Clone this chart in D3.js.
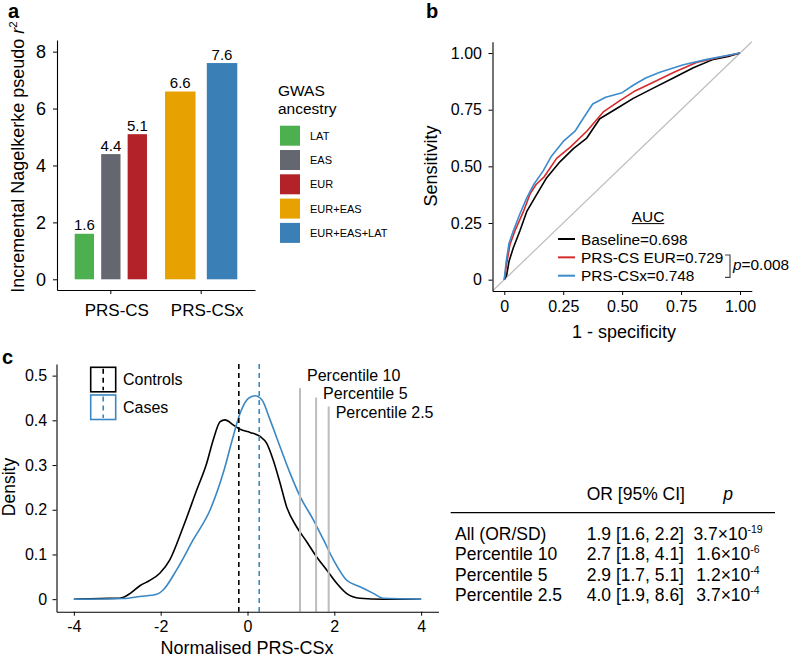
<!DOCTYPE html>
<html>
<head>
<meta charset="utf-8">
<script src="https://cdn.jsdelivr.net/npm/d3@7"></script>
<style>
body { margin: 0; background: #fff; }
svg text { font-family: "Liberation Sans", Arial, Helvetica, sans-serif; fill: #000; }
</style>
</head>
<body>
<svg id="fig" width="794" height="657"></svg>
<script>
// ---- panel a: incremental r2 ----
const barGroups = ["PRS-CS", "PRS-CSx"];
const ancestries = ["LAT", "EAS", "EUR", "EUR+EAS", "EUR+EAS+LAT"];
const ancestryGroup = ["PRS-CS", "PRS-CS", "PRS-CS", "PRS-CSx", "PRS-CSx"];
const r2Values = [1.6, 4.4, 5.1, 6.6, 7.6];
const r2Ticks = [0, 2, 4, 6, 8];
const ancestryColors = ["#4db04f", "#64676f", "#b22228", "#e7a100", "#3a7fb6"];

// ---- panel b: ROC curves, [1 - specificity, sensitivity] ----
const rocBaseline = [[0,0],[0.01,0.02],[0.02,0.08],[0.038,0.14],[0.066,0.215],[0.095,0.3],[0.137,0.375],[0.18,0.45],[0.236,0.52],[0.293,0.578],[0.35,0.625],[0.405,0.71],[0.477,0.755],[0.547,0.8],[0.632,0.845],[0.717,0.89],[0.802,0.935],[0.887,0.972],[0.95,0.985],[1,1]];
const rocPrsCsEur = [[0,0],[0.01,0.07],[0.024,0.155],[0.045,0.215],[0.081,0.3],[0.11,0.38],[0.135,0.42],[0.17,0.455],[0.222,0.535],[0.28,0.585],[0.35,0.655],[0.42,0.74],[0.49,0.79],[0.55,0.83],[0.63,0.87],[0.72,0.915],[0.82,0.96],[0.9,0.978],[1,1]];
const rocPrsCsx = [[0,0],[0.008,0.08],[0.02,0.16],[0.038,0.215],[0.066,0.29],[0.095,0.36],[0.125,0.42],[0.165,0.48],[0.2,0.545],[0.25,0.61],[0.3,0.655],[0.34,0.72],[0.375,0.775],[0.43,0.805],[0.5,0.825],[0.55,0.86],[0.6,0.89],[0.66,0.915],[0.76,0.948],[0.86,0.972],[0.94,0.988],[1,1]];
const rocNames = ["Baseline=0.698", "PRS-CS EUR=0.729", "PRS-CSx=0.748"];
const rocColors = ["#000000", "#d62a2a", "#3b8bcd"];
const rocTicks = [0, 0.25, 0.5, 0.75, 1];
const aucPValue = "=0.008";

// ---- panel c: score densities, [score, density] ----
const densityControls = [[-4,0],[-3.4,0.0015],[-2.94,0.002],[-2.7,0.013],[-2.48,0.03],[-2.25,0.042],[-2.02,0.058],[-1.79,0.088],[-1.48,0.162],[-1.17,0.244],[-0.94,0.304],[-0.79,0.356],[-0.63,0.397],[-0.52,0.401],[-0.33,0.39],[-0.17,0.38],[0.06,0.373],[0.29,0.364],[0.44,0.349],[0.59,0.312],[0.75,0.26],[0.9,0.207],[1.13,0.162],[1.36,0.129],[1.59,0.095],[1.82,0.066],[2.05,0.036],[2.28,0.013],[2.59,0.002],[3.13,0],[4,0]];
const densityCases = [[-4,0],[-2.86,0.0015],[-2.48,0.006],[-2.09,0.011],[-1.94,0.021],[-1.63,0.066],[-1.25,0.133],[-0.86,0.2],[-0.56,0.282],[-0.33,0.364],[-0.17,0.416],[0.02,0.449],[0.17,0.455],[0.33,0.446],[0.52,0.401],[0.75,0.341],[0.98,0.282],[1.21,0.23],[1.52,0.177],[1.75,0.133],[1.98,0.088],[2.28,0.043],[2.59,0.028],[2.9,0.013],[3.13,0.002],[4,0]];
const groupNames = ["Controls", "Cases"];
const groupMeans = [-0.2, 0.27];
const groupColors = ["#000000", "#3a87c4"];
const percentileNames = ["Percentile 10", "Percentile 5", "Percentile 2.5"];
const percentileCutoffs = [1.21, 1.58, 1.87];
const percentileTops = [0.472, 0.451, 0.431];
const percentileLabelY = [0.489, 0.447, 0.405];
const densityXTicks = [-4, -2, 0, 2, 4];
const densityYTicks = [0, 0.1, 0.2, 0.3, 0.4, 0.5];

// ---- table ----
const tableLabels = ["All (OR/SD)", "Percentile 10", "Percentile 5", "Percentile 2.5"];
const tableOR = ["1.9 [1.6, 2.2]", "2.7 [1.8, 4.1]", "2.9 [1.7, 5.1]", "4.0 [1.9, 8.6]"];
const tablePMantissa = ["3.7", "1.6", "1.2", "3.7"];
const tablePExponent = ["-19", "-6", "-4", "-4"];

const svg = d3.select("#fig");

function styleAxis(g, size) {
    g.attr("font-size", size);
    g.select(".domain").attr("stroke", "#000").attr("stroke-width", 1.1);
    g.selectAll(".tick line").attr("stroke", "#000").attr("stroke-width", 1);
    g.selectAll(".tick text").attr("fill", "#000");
}

function panelLabel(txt, x, y) {
    svg.append("text").attr("x", x).attr("y", y)
        .attr("font-size", 20).attr("font-weight", "bold").text(txt);
}

// ================= panel a =================
panelLabel("a", 8, 18);

const yA = d3.scaleLinear().domain([-0.376, 8.41]).range([290, 40]);
const xA = d3.scaleBand().domain(barGroups).range([57, 255])
    .paddingInner(0.2).paddingOuter(0.196);
const innerA = {};
barGroups.forEach(g => {
    innerA[g] = d3.scaleBand()
        .domain(ancestries.filter((a, i) => ancestryGroup[i] === g))
        .range([0, xA.bandwidth()]).paddingInner(0.27);
});

const bars = ancestries.map((a, i) => ({ name: a, group: ancestryGroup[i], value: r2Values[i], color: ancestryColors[i] }));
const barX = d => xA(d.group) + innerA[d.group](d.name);

svg.append("g").selectAll("rect").data(bars).join("rect")
    .attr("x", barX)
    .attr("width", d => innerA[d.group].bandwidth())
    .attr("y", d => yA(d.value))
    .attr("height", d => yA(0) - yA(d.value))
    .attr("fill", d => d.color);

svg.append("g").selectAll("text").data(bars).join("text")
    .attr("x", d => barX(d) + innerA[d.group].bandwidth() / 2)
    .attr("y", d => yA(d.value) - 3.5)
    .attr("text-anchor", "middle")
    .attr("font-size", 15)
    .text(d => d.value.toFixed(1));

const axA_y = svg.append("g").attr("transform", "translate(57,0)")
    .call(d3.axisLeft(yA).tickValues(r2Ticks).tickSize(4).tickPadding(7).tickSizeOuter(0));
styleAxis(axA_y, 18);

const axA_x = svg.append("g").attr("transform", "translate(0,290)")
    .call(d3.axisBottom(xA).tickSize(4).tickSizeOuter(0));
styleAxis(axA_x, 17);
axA_x.selectAll(".tick text").attr("y", 26).attr("dy", 0).attr("dx", 6);

const titleA = svg.append("text").attr("transform", "translate(24,157) rotate(-90)")
    .attr("text-anchor", "middle").attr("font-size", 18);
titleA.append("tspan").text("Incremental Nagelkerke pseudo ");
titleA.append("tspan").attr("font-style", "italic").text("r");
titleA.append("tspan").attr("font-size", 11.5).attr("dy", -7).text("2");

// legend a
svg.append("text").attr("x", 278).attr("y", 96).attr("font-size", 15.5).text("GWAS");
svg.append("text").attr("x", 278).attr("y", 114).attr("font-size", 15.5).text("ancestry");
const legA = svg.append("g").selectAll("g").data(bars).join("g")
    .attr("transform", (d, i) => `translate(280,${125.7 + i * 24.3})`);
legA.append("rect").attr("width", 20).attr("height", 20).attr("fill", d => d.color);
legA.append("text").attr("x", 30).attr("y", 10).attr("dy", "0.36em")
    .attr("font-size", 11).text(d => d.name);

// ================= panel b =================
panelLabel("b", 426, 18);

const xB = d3.scaleLinear().domain([-0.05, 1.05]).range([492.5, 751.8]);
const yB = d3.scaleLinear().domain([-0.05, 1.05]).range([291, 41.7]);
const rocFmt = d => d === 0 ? "0" : d3.format(".2f")(d);

svg.append("line")
    .attr("x1", xB(-0.05)).attr("y1", yB(-0.05))
    .attr("x2", xB(1.05)).attr("y2", yB(1.05))
    .attr("stroke", "#bdbdbd").attr("stroke-width", 1.2);

const rocLine = d3.line().x(d => xB(d[0])).y(d => yB(d[1]));
[rocBaseline, rocPrsCsEur, rocPrsCsx].forEach((c, i) => {
    svg.append("path").datum(c).attr("d", rocLine)
        .attr("fill", "none").attr("stroke", rocColors[i]).attr("stroke-width", 1.6)
        .attr("stroke-linejoin", "round");
});

const axB_y = svg.append("g").attr("transform", "translate(492.5,0)")
    .call(d3.axisLeft(yB).tickValues(rocTicks).tickFormat(rocFmt).tickSize(4).tickPadding(6.5).tickSizeOuter(0));
styleAxis(axB_y, 16);
const axB_x = svg.append("g").attr("transform", "translate(0,291)")
    .call(d3.axisBottom(xB).tickValues(rocTicks).tickFormat(rocFmt).tickSize(4).tickPadding(5.3).tickSizeOuter(0));
styleAxis(axB_x, 16);

svg.append("text").attr("transform", "translate(437,166) rotate(-90)")
    .attr("text-anchor", "middle").attr("font-size", 18).text("Sensitivity");
svg.append("text").attr("x", 624).attr("y", 338)
    .attr("text-anchor", "middle").attr("font-size", 18).text("1 - specificity");

// legend b
const aucTxt = svg.append("text").attr("x", 648).attr("y", 221.5)
    .attr("text-anchor", "middle").attr("font-size", 15.4).text("AUC");
const aucW = aucTxt.node().getComputedTextLength();
svg.append("line").attr("x1", 648 - aucW / 2).attr("x2", 648 + aucW / 2)
    .attr("y1", 223.6).attr("y2", 223.6).attr("stroke", "#000").attr("stroke-width", 1);
const legB = svg.append("g").selectAll("g").data(rocNames).join("g")
    .attr("transform", (d, i) => `translate(558,${239 + i * 18.35})`);
legB.append("line").attr("x1", 0).attr("x2", 17)
    .attr("stroke", (d, i) => rocColors[i]).attr("stroke-width", 2);
legB.append("text").attr("x", 23).attr("y", 5.6).attr("font-size", 15.4).text(d => d);
svg.append("path").attr("d", "M725,255H730V277.3H725")
    .attr("fill", "none").attr("stroke", "#444").attr("stroke-width", 1.2);
const pTxt = svg.append("text").attr("x", 733).attr("y", 270).attr("font-size", 15.4);
pTxt.append("tspan").attr("font-style", "italic").text("p");
pTxt.append("tspan").text(aucPValue);

// ================= panel c =================
panelLabel("c", 2, 364);

const xC = d3.scaleLinear().domain([-4.4, 4.4]).range([56.5, 438.5]);
const yC = d3.scaleLinear().domain([-0.028, 0.526]).range([611.7, 364]);
const densFmt = d => d === 0 ? "0" : d3.format(".1f")(d);

const densLine = d3.line().x(d => xC(d[0])).y(d => yC(d[1])).curve(d3.curveMonotoneX);
[densityControls, densityCases].forEach((c, i) => {
    svg.append("path").datum(c).attr("d", densLine)
        .attr("fill", "none").attr("stroke", groupColors[i]).attr("stroke-width", 1.6);
});

groupMeans.forEach((m, i) => {
    svg.append("line").attr("x1", xC(m)).attr("x2", xC(m))
        .attr("y1", yC.range()[1]).attr("y2", yC.range()[0])
        .attr("stroke", groupColors[i]).attr("stroke-width", 1.6)
        .attr("stroke-dasharray", "5,4");
});

percentileCutoffs.forEach((p, i) => {
    svg.append("line").attr("x1", xC(p)).attr("x2", xC(p))
        .attr("y1", yC(percentileTops[i])).attr("y2", yC.range()[0])
        .attr("stroke", "#bdbdbd").attr("stroke-width", 2);
    svg.append("text").attr("x", xC(p) + 7).attr("y", yC(percentileLabelY[i]))
        .attr("font-size", 16).text(percentileNames[i]);
});

const axC_y = svg.append("g").attr("transform", "translate(56.5,0)")
    .call(d3.axisLeft(yC).tickValues(densityYTicks).tickFormat(densFmt).tickSize(4).tickPadding(5.3).tickSizeOuter(0));
styleAxis(axC_y, 16);
const axC_x = svg.append("g").attr("transform", "translate(0,611.7)")
    .call(d3.axisBottom(xC).tickValues(densityXTicks).tickSize(4).tickPadding(4.6).tickSizeOuter(0));
styleAxis(axC_x, 16);
axC_x.selectAll(".tick text").text(d => d < 0 ? "-" + Math.abs(d) : d);

svg.append("text").attr("transform", "translate(15,487) rotate(-90)")
    .attr("text-anchor", "middle").attr("font-size", 17.5).text("Density");
svg.append("text").attr("x", 247).attr("y", 654)
    .attr("text-anchor", "middle").attr("font-size", 18).text("Normalised PRS-CSx");

// legend c
const legC = svg.append("g").selectAll("g").data(groupNames).join("g")
    .attr("transform", (d, i) => `translate(90.7,${367.3 + i * 27.7})`);
legC.append("rect").attr("width", 25).attr("height", 24.5)
    .attr("fill", "#fff").attr("stroke", (d, i) => groupColors[i]).attr("stroke-width", 1.6);
legC.append("line").attr("x1", 12.5).attr("x2", 12.5).attr("y1", 1.5).attr("y2", 23)
    .attr("stroke", (d, i) => groupColors[i]).attr("stroke-width", 1.6).attr("stroke-dasharray", "5,4");
legC.append("text").attr("x", 32.3).attr("y", 12.2).attr("dy", "0.36em")
    .attr("font-size", 16).text(d => d);

// ================= table =================
const tFont = 17.5;
svg.append("text").attr("x", 586.7).attr("y", 500).attr("font-size", tFont).text("OR [95% CI]");
svg.append("text").attr("x", 728).attr("y", 500).attr("text-anchor", "middle")
    .attr("font-size", tFont).attr("font-style", "italic").text("p");
svg.append("line").attr("x1", 450.7).attr("x2", 775).attr("y1", 512.7).attr("y2", 512.7)
    .attr("stroke", "#000").attr("stroke-width", 1.2);

const rowY = i => 540 + i * 20.3;
tableLabels.forEach((lab, i) => {
    svg.append("text").attr("x", 455).attr("y", rowY(i)).attr("font-size", tFont).text(lab);
    svg.append("text").attr("x", 586.7).attr("y", rowY(i)).attr("font-size", tFont).text(tableOR[i]);
    const pt = svg.append("text").attr("x", 728).attr("y", rowY(i))
        .attr("text-anchor", "middle").attr("font-size", tFont);
    pt.append("tspan").text(tablePMantissa[i] + "\u00d710");
    pt.append("tspan").attr("font-size", 10.5).attr("dy", -7).text(tablePExponent[i]);
});
</script>
</body>
</html>
